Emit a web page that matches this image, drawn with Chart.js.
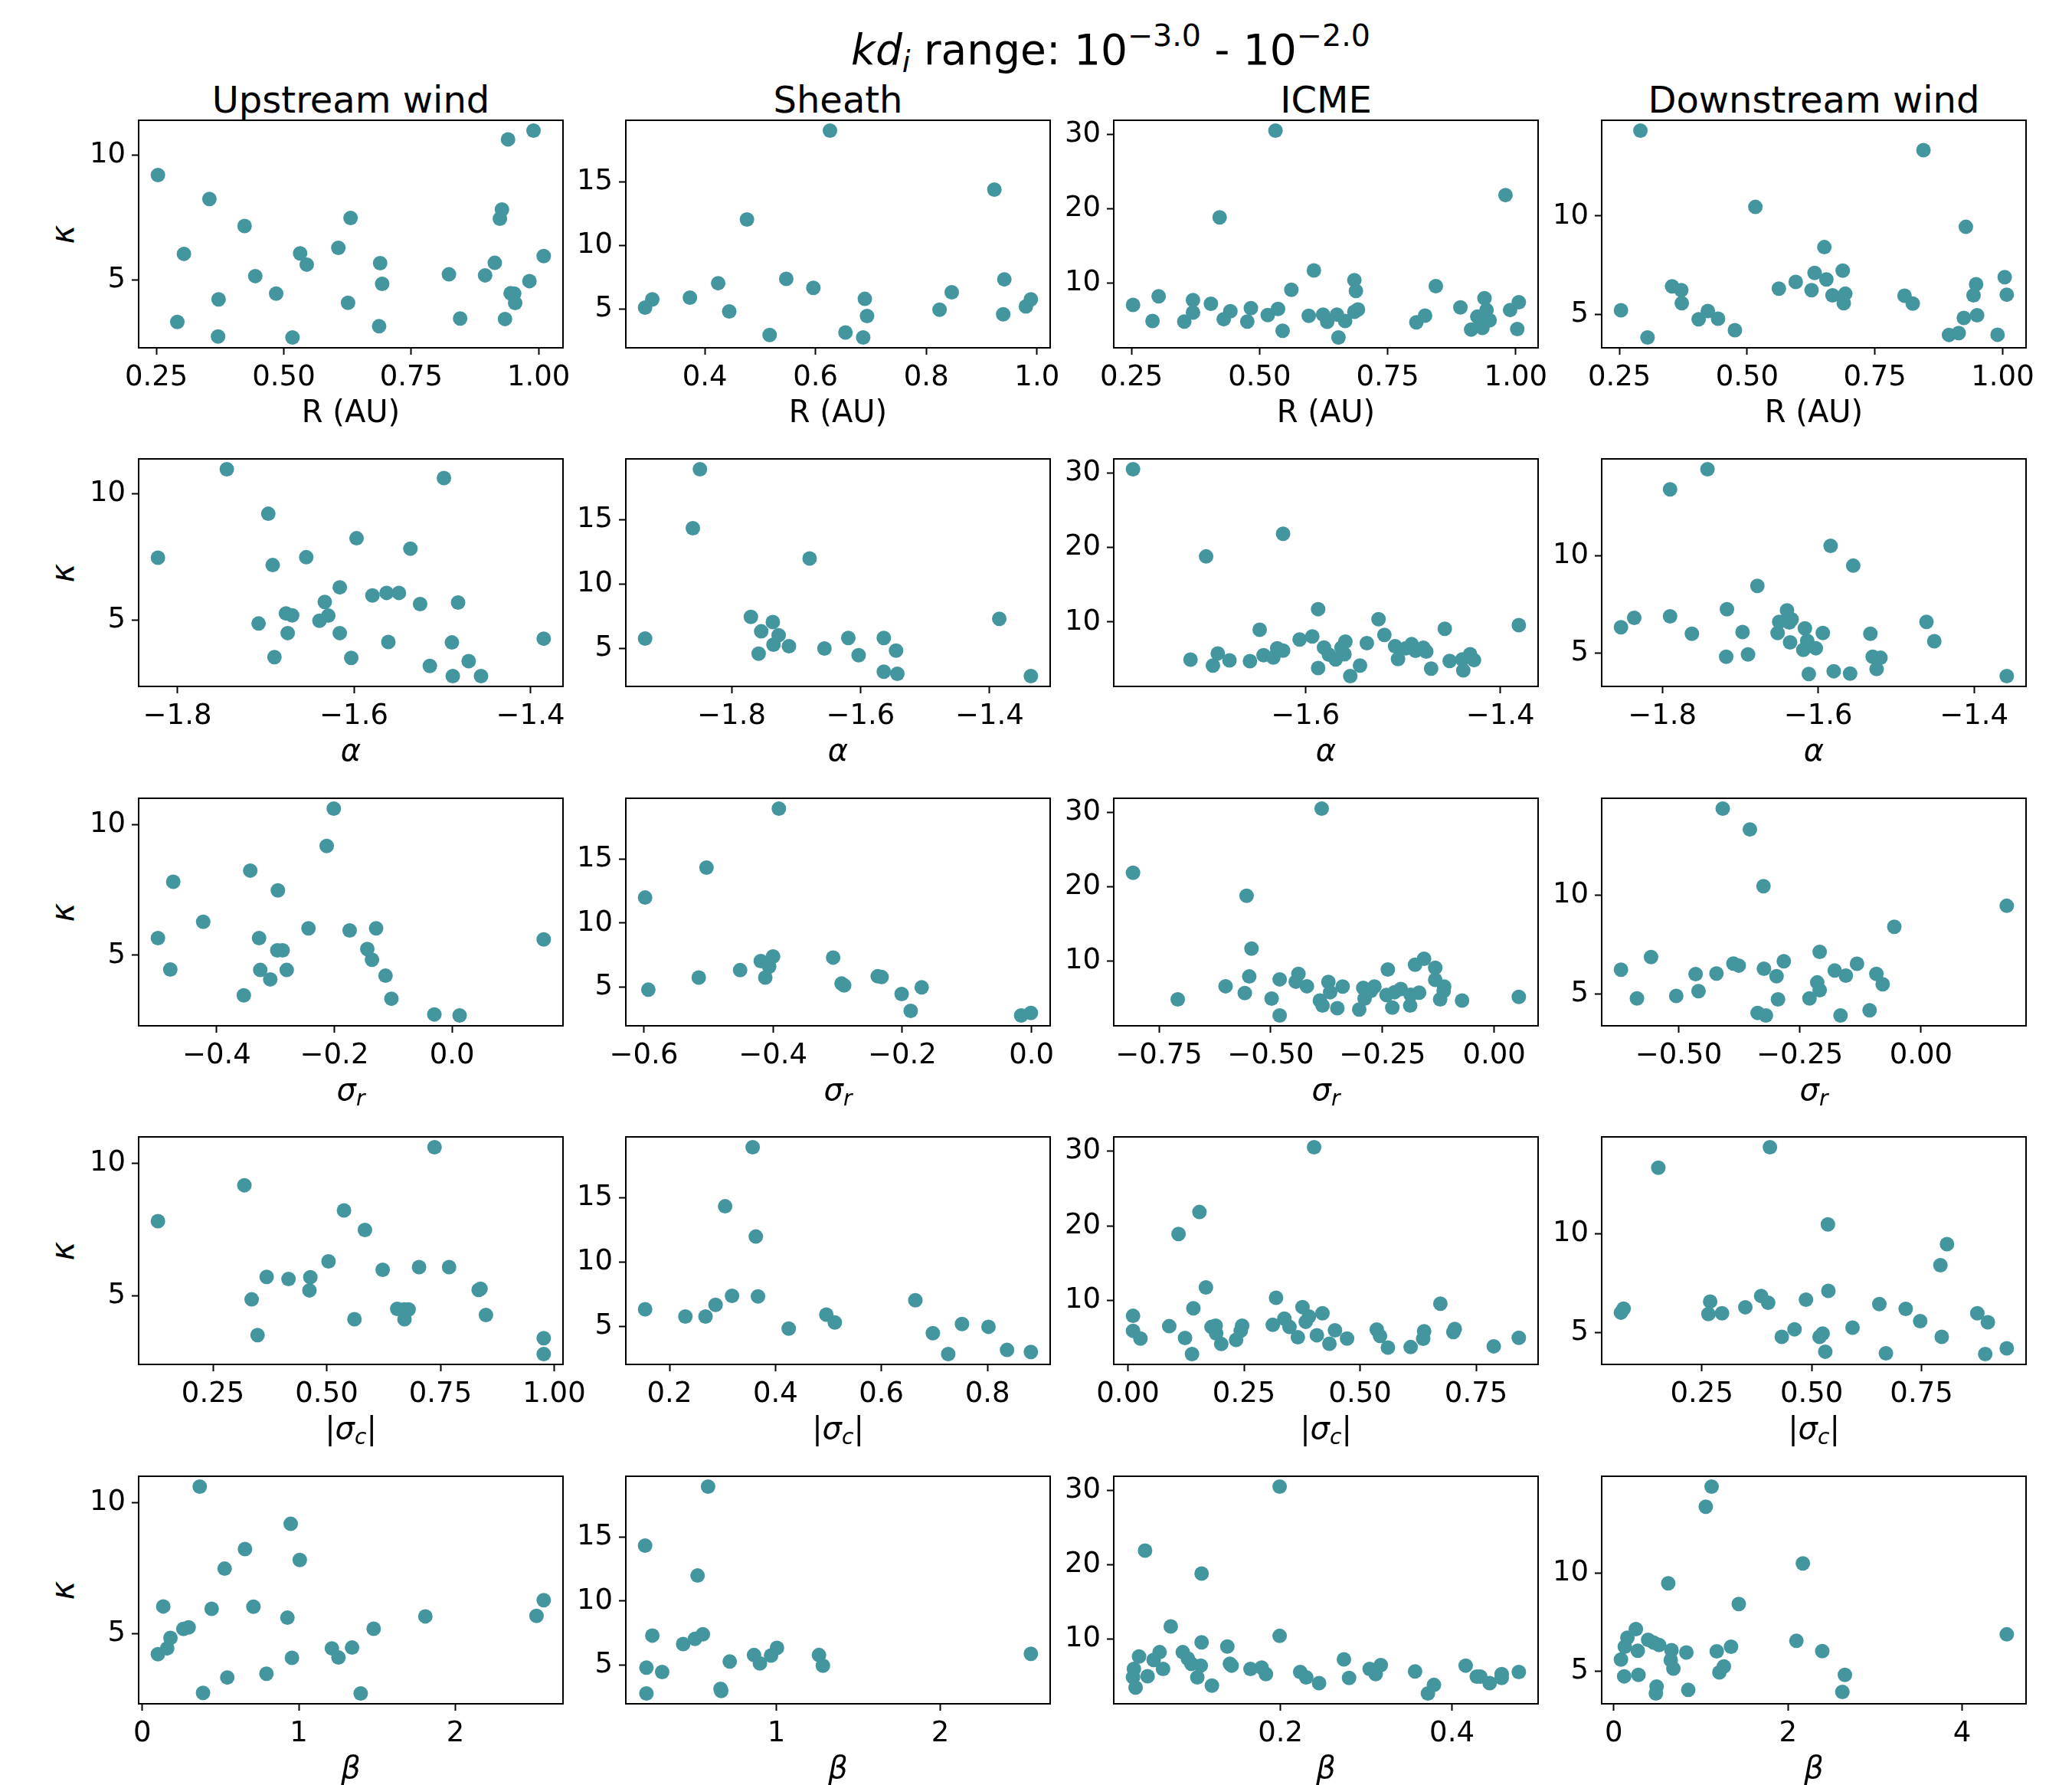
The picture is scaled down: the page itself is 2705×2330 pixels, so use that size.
<!DOCTYPE html>
<html>
<head>
<meta charset="utf-8">
<script src="https://cdn.jsdelivr.net/npm/chart.js@4.4.1/dist/chart.umd.min.js"></script>
<style>
body { margin: 0; background: #fff; width: 2705px; height: 2330px; position: relative; overflow: hidden; font-family: 'DejaVu Sans', sans-serif; }
canvas { position: absolute; }
.txt { position: absolute; white-space: nowrap; line-height: 1; color: #000; }
.txt sub { font-size: 0.7em; vertical-align: 0; position: relative; top: 0.25em; }
.txt sup { font-size: 0.72em; vertical-align: 0; position: relative; top: -0.6em; }
</style>
</head>
<body>
<script>
const columns = ['Upstream wind', 'Sheath', 'ICME', 'Downstream wind'];
const xTitles = ['R (AU)', '<i>α</i>', '<i>σ<sub>r</sub></i>', '|<i>σ<sub>c</sub></i>|', '<i>β</i>'];

// row 1: kappa vs R
const upR = [[0.253,9.20],[0.354,8.24],[0.423,7.16],[0.304,6.04],[0.291,3.31],[0.372,4.22],[0.371,2.73],[0.444,5.15],[0.485,4.45],[0.517,2.69],[0.532,6.06],[0.545,5.61],[0.607,6.28],[0.631,7.48],[0.626,4.08],[0.689,5.67],[0.693,4.84],[0.687,3.14],[0.824,5.22],[0.846,3.45],[0.895,5.18],[0.914,5.68],[0.928,7.82],[0.924,7.45],[0.940,10.63],[0.990,10.98],[0.945,4.46],[0.952,4.45],[0.954,4.07],[0.934,3.43],[0.982,4.95],[1.010,5.95]];
const shR = [[0.292,5.12],[0.305,5.77],[0.373,5.91],[0.424,7.04],[0.444,4.82],[0.476,12.04],[0.517,2.98],[0.547,7.38],[0.596,6.67],[0.626,19.01],[0.654,3.17],[0.686,2.78],[0.689,5.81],[0.693,4.46],[0.824,4.96],[0.846,6.33],[0.923,14.38],[0.941,7.34],[0.939,4.60],[0.980,5.22],[0.989,5.77]];
const icR = [[0.253,7.09],[0.291,4.91],[0.303,8.24],[0.353,4.84],[0.370,7.72],[0.370,6.06],[0.405,7.23],[0.422,18.86],[0.430,5.16],[0.443,6.23],[0.476,4.84],[0.483,6.64],[0.516,5.71],[0.531,30.55],[0.536,6.54],[0.545,3.60],[0.562,9.13],[0.596,5.61],[0.606,11.73],[0.624,5.78],[0.632,4.81],[0.651,5.78],[0.654,2.70],[0.667,4.91],[0.685,10.42],[0.688,8.96],[0.685,6.16],[0.692,6.47],[0.806,4.74],[0.823,5.64],[0.844,9.62],[0.892,6.75],[0.913,3.77],[0.925,5.50],[0.939,7.99],[0.935,3.98],[0.943,6.40],[0.949,5.02],[0.930,5.09],[0.980,21.87],[0.989,6.40],[1.006,7.44],[1.003,3.84]];
const dwR = [[0.253,5.22],[0.291,14.33],[0.305,3.84],[0.353,6.43],[0.371,6.24],[0.372,5.58],[0.405,4.76],[0.423,5.18],[0.443,4.79],[0.476,4.21],[0.516,10.46],[0.562,6.32],[0.595,6.66],[0.626,6.24],[0.632,7.11],[0.651,8.42],[0.655,6.78],[0.667,5.98],[0.687,7.23],[0.692,6.06],[0.689,5.58],[0.808,5.96],[0.824,5.56],[0.845,13.34],[0.895,3.97],[0.914,4.06],[0.924,4.83],[0.928,9.45],[0.943,5.98],[0.948,6.54],[0.950,4.97],[0.990,3.98],[1.004,6.90],[1.008,6.01]];

// row 2: kappa vs alpha
const upA = [[-1.822,7.46],[-1.744,10.96],[-1.697,9.20],[-1.692,7.17],[-1.708,4.86],[-1.690,3.53],[-1.677,5.26],[-1.670,5.18],[-1.675,4.48],[-1.654,7.48],[-1.639,4.97],[-1.633,5.71],[-1.629,5.17],[-1.616,6.29],[-1.616,4.48],[-1.603,3.50],[-1.597,8.23],[-1.579,5.97],[-1.563,6.07],[-1.549,6.07],[-1.561,4.13],[-1.536,7.82],[-1.525,5.63],[-1.514,3.18],[-1.498,10.61],[-1.488,2.78],[-1.489,4.11],[-1.482,5.69],[-1.470,3.37],[-1.456,2.78],[-1.385,4.26]];
const shA = [[-1.934,5.77],[-1.849,18.94],[-1.860,14.35],[-1.770,7.45],[-1.754,6.33],[-1.758,4.59],[-1.736,7.05],[-1.735,5.29],[-1.727,6.03],[-1.711,5.17],[-1.679,12.00],[-1.656,4.99],[-1.619,5.81],[-1.603,4.47],[-1.564,5.81],[-1.564,3.19],[-1.545,4.83],[-1.543,3.03],[-1.385,7.31],[-1.336,2.85]];
const icA = [[-1.777,30.55],[-1.718,4.95],[-1.702,18.82],[-1.695,4.15],[-1.690,5.78],[-1.678,4.84],[-1.657,4.74],[-1.647,8.96],[-1.643,5.54],[-1.633,5.22],[-1.629,6.47],[-1.623,6.16],[-1.623,21.87],[-1.606,7.65],[-1.593,8.06],[-1.587,11.73],[-1.587,3.81],[-1.581,6.57],[-1.576,5.61],[-1.569,4.98],[-1.563,6.54],[-1.559,7.37],[-1.560,5.67],[-1.554,2.73],[-1.544,4.15],[-1.537,7.16],[-1.525,10.38],[-1.519,8.27],[-1.508,6.75],[-1.505,5.02],[-1.497,6.47],[-1.491,7.02],[-1.487,6.12],[-1.479,6.54],[-1.476,6.02],[-1.471,3.74],[-1.457,9.10],[-1.452,4.77],[-1.438,3.49],[-1.439,4.98],[-1.431,5.67],[-1.427,4.88],[-1.381,9.58]];
const dwA = [[-1.853,6.32],[-1.836,6.80],[-1.790,13.40],[-1.790,6.88],[-1.762,5.98],[-1.742,14.43],[-1.717,7.24],[-1.718,4.80],[-1.697,6.07],[-1.690,4.92],[-1.678,8.44],[-1.652,6.02],[-1.650,6.59],[-1.640,7.18],[-1.637,6.56],[-1.634,6.72],[-1.636,5.54],[-1.617,6.26],[-1.619,5.16],[-1.614,5.62],[-1.612,3.92],[-1.603,5.24],[-1.594,6.02],[-1.584,10.50],[-1.580,4.06],[-1.559,3.94],[-1.555,9.48],[-1.533,5.98],[-1.530,4.80],[-1.520,4.75],[-1.525,4.17],[-1.461,6.59],[-1.451,5.60],[-1.358,3.81]];

// row 3: kappa vs sigma_r
const upS = [[-0.500,5.66],[-0.474,7.81],[-0.479,4.46],[-0.423,6.28],[-0.354,3.47],[-0.343,8.24],[-0.328,5.66],[-0.326,4.44],[-0.309,4.08],[-0.296,7.48],[-0.297,5.19],[-0.288,5.19],[-0.281,4.44],[-0.244,6.03],[-0.213,9.18],[-0.201,10.61],[-0.174,5.95],[-0.129,6.03],[-0.144,5.24],[-0.136,4.83],[-0.113,4.22],[-0.103,3.34],[-0.030,2.74],[0.013,2.70],[0.156,5.61]];
const shS = [[-0.598,12.00],[-0.593,4.78],[-0.515,5.73],[-0.503,14.35],[-0.451,6.31],[-0.419,7.02],[-0.400,7.38],[-0.406,6.59],[-0.412,5.73],[-0.391,18.97],[-0.307,7.30],[-0.294,5.26],[-0.290,5.12],[-0.238,5.83],[-0.232,5.77],[-0.201,4.44],[-0.187,3.12],[-0.170,4.96],[-0.016,2.76],[-0.001,2.96]];
const icS = [[-0.808,21.88],[-0.708,4.83],[-0.601,6.60],[-0.558,5.69],[-0.554,18.78],[-0.548,7.92],[-0.543,11.67],[-0.498,4.93],[-0.480,7.53],[-0.480,2.67],[-0.444,7.22],[-0.438,8.26],[-0.419,6.60],[-0.390,4.69],[-0.384,4.00],[-0.386,30.52],[-0.371,7.19],[-0.367,5.80],[-0.351,3.65],[-0.339,6.56],[-0.302,3.47],[-0.293,6.39],[-0.290,4.93],[-0.276,5.97],[-0.268,6.56],[-0.241,5.42],[-0.238,8.85],[-0.228,3.72],[-0.223,5.80],[-0.209,6.22],[-0.188,4.00],[-0.187,5.45],[-0.177,9.51],[-0.168,5.73],[-0.157,10.31],[-0.132,7.47],[-0.132,9.10],[-0.121,4.83],[-0.112,6.56],[-0.113,5.97],[-0.072,4.69],[0.055,5.17]];
const dwS = [[-0.619,6.24],[-0.586,4.79],[-0.557,6.88],[-0.505,4.92],[-0.465,6.02],[-0.459,5.16],[-0.422,6.05],[-0.409,14.38],[-0.387,6.55],[-0.376,6.45],[-0.353,13.33],[-0.337,4.06],[-0.324,6.29],[-0.320,3.93],[-0.325,10.46],[-0.298,5.91],[-0.295,4.74],[-0.283,6.67],[-0.230,4.79],[-0.214,5.60],[-0.209,5.21],[-0.209,7.14],[-0.178,6.20],[-0.166,3.93],[-0.155,5.94],[-0.132,6.54],[-0.106,4.19],[-0.092,6.03],[-0.079,5.51],[-0.055,8.41],[0.177,9.47]];

// row 4: kappa vs |sigma_c|
const upC = [[0.129,7.82],[0.319,9.18],[0.335,4.86],[0.348,3.51],[0.368,5.71],[0.416,5.63],[0.464,5.70],[0.462,5.20],[0.504,6.30],[0.538,8.23],[0.561,4.11],[0.584,7.49],[0.623,5.98],[0.655,4.50],[0.670,4.48],[0.680,4.48],[0.671,4.11],[0.703,6.08],[0.737,10.62],[0.769,6.08],[0.834,5.22],[0.838,5.26],[0.850,4.27],[0.977,3.39],[0.977,2.79]];
const shC = [[0.154,6.35],[0.230,5.79],[0.268,5.79],[0.287,6.69],[0.305,14.35],[0.318,7.39],[0.357,18.94],[0.363,12.00],[0.367,7.35],[0.425,4.85],[0.496,5.93],[0.512,5.33],[0.664,7.05],[0.697,4.49],[0.726,2.87],[0.752,5.21],[0.802,4.99],[0.837,3.19],[0.882,3.03]];
const icC = [[0.011,7.92],[0.011,5.91],[0.027,4.87],[0.089,6.53],[0.109,18.91],[0.123,4.94],[0.138,2.79],[0.141,8.93],[0.154,21.85],[0.168,11.73],[0.180,6.43],[0.189,6.60],[0.190,5.56],[0.201,4.14],[0.233,4.70],[0.243,5.91],[0.246,6.60],[0.312,6.71],[0.319,10.35],[0.337,7.54],[0.348,6.43],[0.366,5.04],[0.376,9.10],[0.383,7.12],[0.390,7.82],[0.401,30.55],[0.407,5.32],[0.419,8.27],[0.434,4.18],[0.446,5.98],[0.472,4.87],[0.536,6.08],[0.543,5.22],[0.560,3.66],[0.609,3.73],[0.636,4.84],[0.638,5.84],[0.673,9.55],[0.701,5.74],[0.704,6.15],[0.788,3.83],[0.842,4.97]];
const dwC = [[0.066,6.02],[0.072,6.22],[0.151,13.33],[0.265,5.95],[0.269,6.58],[0.296,5.99],[0.349,6.29],[0.385,6.86],[0.401,6.52],[0.405,14.36],[0.432,4.80],[0.461,5.18],[0.487,6.67],[0.518,4.80],[0.525,4.96],[0.531,4.05],[0.537,10.47],[0.538,7.12],[0.593,5.26],[0.654,6.45],[0.669,3.97],[0.714,6.21],[0.747,5.59],[0.793,8.41],[0.796,4.80],[0.808,9.47],[0.877,5.99],[0.901,5.53],[0.895,3.93],[0.944,4.22]];

// row 5: kappa vs beta
const upB = [[0.100,4.22],[0.159,4.44],[0.180,4.84],[0.134,6.04],[0.263,5.18],[0.296,5.24],[0.367,10.61],[0.388,2.74],[0.443,5.95],[0.526,7.48],[0.543,3.33],[0.656,8.23],[0.710,6.03],[0.793,3.47],[0.927,5.61],[0.948,9.19],[0.956,4.08],[1.006,7.81],[1.211,4.44],[1.253,4.09],[1.340,4.47],[1.395,2.72],[1.478,5.19],[1.808,5.66],[2.518,5.68],[2.564,6.28]];
const shB = [[0.200,14.35],[0.208,4.78],[0.208,2.76],[0.244,7.30],[0.304,4.44],[0.432,6.63],[0.504,7.04],[0.520,12.00],[0.552,7.40],[0.584,18.97],[0.660,3.12],[0.664,2.96],[0.716,5.26],[0.864,5.77],[0.900,5.12],[0.968,5.73],[1.004,6.33],[1.260,5.77],[1.284,4.94],[2.552,5.87]];
const icB = [[0.028,4.86],[0.029,5.97],[0.031,3.47],[0.035,7.64],[0.042,21.91],[0.045,5.00],[0.052,7.19],[0.059,8.23],[0.063,5.97],[0.072,11.70],[0.086,8.23],[0.092,7.36],[0.096,6.67],[0.103,4.83],[0.107,6.42],[0.108,9.55],[0.108,18.82],[0.120,3.72],[0.138,8.99],[0.141,6.67],[0.143,6.42],[0.165,5.97],[0.178,6.15],[0.183,5.28],[0.199,30.52],[0.199,10.42],[0.223,5.56],[0.230,4.83],[0.245,4.06],[0.274,7.26],[0.280,4.76],[0.304,5.97],[0.311,5.28],[0.317,6.49],[0.357,5.63],[0.372,2.67],[0.379,3.82],[0.416,6.42],[0.429,4.93],[0.433,4.93],[0.444,4.06],[0.458,5.28],[0.458,4.76],[0.478,5.56]];
const dwB = [[0.082,5.60],[0.119,4.75],[0.126,6.25],[0.156,6.71],[0.253,7.15],[0.275,6.05],[0.283,4.82],[0.394,6.60],[0.454,6.47],[0.520,6.34],[0.491,4.23],[0.483,3.88],[0.625,9.47],[0.662,6.08],[0.654,5.57],[0.684,5.14],[0.833,5.96],[0.855,4.06],[1.056,13.36],[1.123,14.38],[1.182,6.02],[1.212,4.95],[1.264,5.25],[1.346,6.25],[1.435,8.42],[2.097,6.55],[2.171,10.48],[2.394,6.03],[2.654,4.82],[2.625,3.96],[4.513,6.88]];

const panels = [
    [upR, shR, icR, dwR],
    [upA, shA, icA, dwA],
    [upS, shS, icS, dwS],
    [upC, shC, icC, dwC],
    [upB, shB, icB, dwB]
];

const xTicks = [
    [['0.25','0.50','0.75','1.00'], ['0.4','0.6','0.8','1.0'], ['0.25','0.50','0.75','1.00'], ['0.25','0.50','0.75','1.00']],
    [['−1.8','−1.6','−1.4'], ['−1.8','−1.6','−1.4'], ['−1.6','−1.4'], ['−1.8','−1.6','−1.4']],
    [['−0.4','−0.2','0.0'], ['−0.6','−0.4','−0.2','0.0'], ['−0.75','−0.50','−0.25','0.00'], ['−0.50','−0.25','0.00']],
    [['0.25','0.50','0.75','1.00'], ['0.2','0.4','0.6','0.8'], ['0.00','0.25','0.50','0.75'], ['0.25','0.50','0.75']],
    [['0','1','2'], ['1','2'], ['0.2','0.4'], ['0','2','4']]
];
const yTicks = [['5','10'], ['5','10','15'], ['10','20','30'], ['5','10']];

const dotColor = '#43959e';
const panelLeft = [181, 817, 1454, 2091];
const panelTop = [157, 599, 1042, 1484, 1927];
const panelW = 554, panelH = 297;
const padL = 110, padT = 25, padR = 50, padB = 80;

Chart.defaults.font.family = "'DejaVu Sans', sans-serif";
Chart.defaults.color = '#000';

const framePlugin = {
    id: 'frame',
    afterDraw(chart) {
        const a = chart.chartArea;
        const ctx = chart.ctx;
        ctx.save();
        ctx.strokeStyle = '#000';
        ctx.lineWidth = 2;
        ctx.strokeRect(a.left, a.top, a.right - a.left, a.bottom - a.top);
        ctx.restore();
    }
};

function num(s) {
    return parseFloat(s.replace('−', '-'));
}

function padded(vals) {
    const lo = Math.min(...vals), hi = Math.max(...vals);
    const m = (hi - lo) * 0.05;
    return [lo - m, hi + m];
}

function axis(lims, labels, dir) {
    return {
        type: 'linear',
        min: lims[0],
        max: lims[1],
        afterBuildTicks: s => { s.ticks = labels.map(t => ({ value: num(t) })); },
        afterFit: s => {
            if (dir === 'x') s.height = padB; else s.width = padL;
            s.paddingLeft = 0; s.paddingRight = 0; s.paddingTop = 0; s.paddingBottom = 0;
        },
        ticks: {
            autoSkip: false,
            maxRotation: 0,
            padding: 8,
            font: { size: 37 },
            color: '#000',
            callback: (v, i) => labels[i]
        },
        grid: { drawOnChartArea: false, drawTicks: true, tickLength: 9, tickWidth: 2, tickColor: '#000' },
        border: { display: false }
    };
}

function addText(html, x, y, fs, transform) {
    const d = document.createElement('div');
    d.className = 'txt';
    d.innerHTML = html;
    d.style.left = x + 'px';
    d.style.top = y + 'px';
    d.style.fontSize = fs + 'px';
    d.style.transform = transform;
    document.body.appendChild(d);
}

function makePanel(r, c) {
    const pts = panels[r][c];
    const cv = document.createElement('canvas');
    cv.width = padL + panelW + padR;
    cv.height = padT + panelH + padB;
    cv.style.left = (panelLeft[c] - padL) + 'px';
    cv.style.top = (panelTop[r] - padT) + 'px';
    document.body.appendChild(cv);

    new Chart(cv, {
        type: 'scatter',
        data: {
            datasets: [{
                data: pts.map(p => ({ x: p[0], y: p[1] })),
                backgroundColor: dotColor,
                borderWidth: 0,
                pointRadius: 9.5,
                pointHoverRadius: 9.5
            }]
        },
        options: {
            responsive: false,
            animation: false,
            devicePixelRatio: 1,
            layout: { padding: { left: 0, top: padT, right: padR, bottom: 0 } },
            plugins: { legend: { display: false }, tooltip: { enabled: false } },
            scales: {
                x: axis(padded(pts.map(p => p[0])), xTicks[r][c], 'x'),
                y: axis(padded(pts.map(p => p[1])), yTicks[c], 'y')
            }
        },
        plugins: [framePlugin]
    });

    addText(xTitles[r], panelLeft[c] + panelW / 2, panelTop[r] + 360, 40, 'translateX(-50%)');
}

addText('<i>kd<sub>i</sub></i> range: 10<sup>−3.0</sup> - 10<sup>−2.0</sup>', 1450, 38, 55, 'translateX(-50%)');
columns.forEach((name, c) => addText(name, panelLeft[c] + panelW / 2, 106, 48, 'translateX(-50%)'));

for (let r = 0; r < panels.length; r++) {
    addText('<i>κ</i>', 82, panelTop[r] + panelH / 2, 42, 'translate(-50%, -50%) rotate(-90deg)');
    for (let c = 0; c < 4; c++) {
        makePanel(r, c);
    }
}
</script>
</body>
</html>
